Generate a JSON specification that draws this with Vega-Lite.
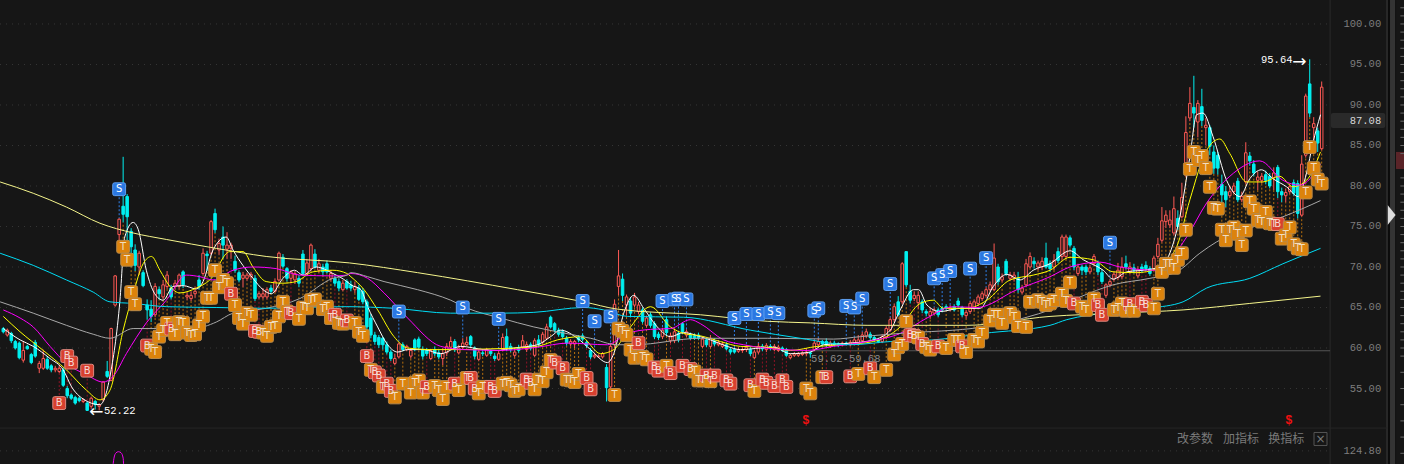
{"$schema":"https://vega.github.io/schema/vega-lite/v6.json","width":1404,"height":464,"padding":0,"autosize":{"type":"none"},"background":"#161616","config":{"view":{"stroke":null},"scale":{"continuousPadding":0}},
"data":{"values":[{"panel":"frame"}]},
"resolve":{"scale":{"stroke":"independent","fill":"independent","color":"independent"}},
"datasets":{
"levels":[{"v":100},{"v":95},{"v":90},{"v":85},{"v":80},{"v":75},{"v":70},{"v":65},{"v":60},{"v":55},{"v":47.3}],
"tickLabels":[{"v":100,"label":"100.00"},{"v":95,"label":"95.00"},{"v":90,"label":"90.00"},{"v":85,"label":"85.00"},{"v":80,"label":"80.00"},{"v":75,"label":"75.00"},{"v":70,"label":"70.00"},{"v":65,"label":"65.00"},{"v":60,"label":"60.00"},{"v":55,"label":"55.00"},{"v":47.28,"label":"124.80"}],
"ruler":[{"v":102},{"v":101},{"v":100},{"v":99},{"v":98},{"v":97},{"v":96},{"v":95},{"v":94},{"v":93},{"v":92},{"v":91},{"v":90},{"v":89},{"v":88},{"v":87},{"v":86},{"v":85},{"v":84},{"v":81},{"v":80},{"v":79},{"v":78},{"v":77},{"v":76},{"v":75},{"v":74},{"v":73},{"v":72},{"v":71},{"v":70},{"v":69},{"v":68},{"v":67},{"v":66},{"v":65},{"v":64},{"v":63},{"v":62},{"v":61},{"v":60},{"v":59},{"v":57},{"v":55},{"v":53},{"v":51},{"v":49},{"v":47}],
"candles":[
{"d":0,"o":62.4,"h":62.6,"l":61.8,"c":62},{"d":1,"o":61.6,"h":62.4,"l":61.4,"c":62.2},{"d":2,"o":61.8,"h":62,"l":60.6,"c":60.9},{"d":3,"o":60.8,"h":61,"l":59.8,"c":60},{"d":4,"o":60.6,"h":60.8,"l":58.6,"c":58.8},{"d":5,"o":58.5,"h":60.8,"l":58.2,"c":59.7},{"d":6,"o":60.2,"h":60.4,"l":59.8,"c":59.9},{"d":7,"o":59.2,"h":59.4,"l":58,"c":58.2},{"d":8,"o":60.7,"h":61,"l":58.8,"c":59},{"d":9,"o":57.5,"h":58.4,"l":56.9,"c":58.1},
{"d":10,"o":57.5,"h":59.8,"l":57.3,"c":58.7},{"d":11,"o":58.6,"h":59,"l":57.3,"c":57.5},{"d":12,"o":57.8,"h":58,"l":57,"c":57.3},{"d":13,"o":57.3,"h":57.8,"l":57,"c":57.5},{"d":14,"o":57.1,"h":57.9,"l":56.9,"c":57.5},{"d":15,"o":57.3,"h":57.6,"l":55.2,"c":55.4},{"d":16,"o":55,"h":55.3,"l":53.8,"c":54.1},{"d":17,"o":54.2,"h":54.4,"l":53.6,"c":53.8},{"d":18,"o":53.9,"h":54.1,"l":53,"c":53.2},{"d":19,"o":53.8,"h":54,"l":53.3,"c":53.5},
{"d":20,"o":53.4,"h":53.8,"l":53.2,"c":53.6},{"d":21,"o":53.2,"h":53.4,"l":52.22,"c":52.3},{"d":22,"o":52.8,"h":54,"l":52.5,"c":53.8},{"d":23,"o":53.4,"h":53.6,"l":52.4,"c":53},{"d":24,"o":52.8,"h":53.2,"l":52.3,"c":53},{"d":25,"o":53.6,"h":55.9,"l":53.4,"c":55.8},{"d":26,"o":57.1,"h":58.4,"l":56.3,"c":56.5},{"d":27,"o":56,"h":62.5,"l":55.9,"c":62.4},{"d":28,"o":65.3,"h":69,"l":65.1,"c":68.9},{"d":29,"o":74,"h":76,"l":72,"c":75.9},
{"d":30,"o":77.5,"h":83.6,"l":75.5,"c":76.5},{"d":31,"o":78.7,"h":79,"l":72.5,"c":76.2},{"d":32,"o":74.4,"h":74.8,"l":70,"c":72.5},{"d":33,"o":72.1,"h":72.8,"l":69.5,"c":70.2},{"d":34,"o":70,"h":72,"l":69,"c":71.7},{"d":35,"o":69.3,"h":69.6,"l":67.5,"c":67.7},{"d":36,"o":65.3,"h":66,"l":63.5,"c":64.7},{"d":37,"o":64.8,"h":65.9,"l":63.2,"c":63.9},{"d":38,"o":64.1,"h":68,"l":63.8,"c":67.6},{"d":39,"o":67.2,"h":67.6,"l":66,"c":66.7},
{"d":40,"o":66.3,"h":68.4,"l":66,"c":67.8},{"d":41,"o":67.6,"h":69.5,"l":67.3,"c":69},{"d":42,"o":67.4,"h":67.8,"l":66,"c":66.3},{"d":43,"o":67.6,"h":68.4,"l":67.2,"c":68},{"d":44,"o":67.6,"h":69.2,"l":67.3,"c":69},{"d":45,"o":69.4,"h":69.6,"l":67.4,"c":67.8},{"d":46,"o":66.3,"h":66.9,"l":65.9,"c":66.5},{"d":47,"o":66.1,"h":67,"l":65.8,"c":66.5},{"d":48,"o":66.7,"h":67.6,"l":66.2,"c":67},{"d":49,"o":68.4,"h":69,"l":67.2,"c":67.6},
{"d":50,"o":69.2,"h":72.3,"l":69,"c":71.7},{"d":51,"o":71.6,"h":72,"l":69.5,"c":71.4},{"d":52,"o":71.7,"h":75.8,"l":71.5,"c":75.6},{"d":53,"o":76.6,"h":77.2,"l":74.2,"c":74.6},{"d":54,"o":72.1,"h":73.5,"l":71.5,"c":72.9},{"d":55,"o":73.7,"h":75,"l":71,"c":72.7},{"d":56,"o":72.2,"h":74.3,"l":71,"c":72.7},{"d":57,"o":72.3,"h":73,"l":71,"c":72.7},{"d":58,"o":70.7,"h":71.4,"l":69.3,"c":69.6},{"d":59,"o":69.3,"h":69.6,"l":68.1,"c":68.4},
{"d":60,"o":68.6,"h":69.4,"l":67.5,"c":69},{"d":61,"o":68.6,"h":69.3,"l":68.3,"c":69},{"d":62,"o":68.8,"h":69.4,"l":68.4,"c":69.1},{"d":63,"o":68.6,"h":69,"l":65.8,"c":66.1},{"d":64,"o":66.3,"h":67,"l":66,"c":66.7},{"d":65,"o":66.3,"h":67.4,"l":66,"c":66.7},{"d":66,"o":66.3,"h":67.5,"l":66,"c":67.2},{"d":67,"o":67.4,"h":67.8,"l":66.7,"c":67},{"d":68,"o":67,"h":68.6,"l":66.8,"c":68.2},{"d":69,"o":68.4,"h":71.9,"l":68.2,"c":71.7},
{"d":70,"o":71.2,"h":71.6,"l":69.9,"c":70.1},{"d":71,"o":69.8,"h":70,"l":68.2,"c":68.6},{"d":72,"o":68.6,"h":69.6,"l":68,"c":69.4},{"d":73,"o":68.4,"h":69.5,"l":67.9,"c":69.2},{"d":74,"o":68.6,"h":69,"l":67.5,"c":68},{"d":75,"o":71.6,"h":72.1,"l":69,"c":69.2},{"d":76,"o":69.2,"h":71,"l":69,"c":70.5},{"d":77,"o":69.8,"h":72.9,"l":69.5,"c":72.7},{"d":78,"o":71.6,"h":72.2,"l":69.8,"c":70},{"d":79,"o":69.6,"h":71,"l":69.2,"c":70.4},
{"d":80,"o":70,"h":70.4,"l":69,"c":69.4},{"d":81,"o":70.4,"h":70.8,"l":69.2,"c":69.4},{"d":82,"o":68.6,"h":69.6,"l":68.2,"c":69.2},{"d":83,"o":68.6,"h":68.9,"l":67.6,"c":68},{"d":84,"o":68.2,"h":68.6,"l":67,"c":67.4},{"d":85,"o":67.2,"h":68.4,"l":67,"c":68},{"d":86,"o":68.2,"h":68.5,"l":67.2,"c":67.4},
{"d":87,"o":67.8,"h":68.3,"l":67,"c":67.4},{"d":88,"o":67.2,"h":68.2,"l":66.8,"c":67.6},{"d":89,"o":67.4,"h":67.8,"l":65.8,"c":66},{"d":90,"o":67,"h":67.4,"l":65.4,"c":65.7},{"d":91,"o":65.7,"h":66,"l":62.2,"c":62.6},{"d":92,"o":63.7,"h":64.2,"l":61.2,"c":61.6},{"d":93,"o":61.6,"h":62,"l":60.4,"c":60.8},{"d":94,"o":61.3,"h":61.6,"l":60,"c":60.4},{"d":95,"o":61.2,"h":61.4,"l":59.8,"c":60.4},{"d":96,"o":60.4,"h":60.8,"l":59.2,"c":59.5},
{"d":97,"o":59.5,"h":59.8,"l":58.4,"c":58.7},{"d":98,"o":58.1,"h":59.3,"l":57.9,"c":58.7},{"d":99,"o":58.9,"h":60.7,"l":58.7,"c":60.5},{"d":100,"o":60.4,"h":60.7,"l":59.6,"c":59.8},{"d":101,"o":59.8,"h":60.4,"l":59.6,"c":60.2},{"d":102,"o":59,"h":60,"l":58.7,"c":59.7},{"d":103,"o":61,"h":61.2,"l":59.6,"c":60},{"d":104,"o":61.1,"h":61.4,"l":59.8,"c":60.1},{"d":105,"o":59.8,"h":60.2,"l":58.6,"c":59},{"d":106,"o":59.7,"h":60,"l":59,"c":59.3},
{"d":107,"o":58.7,"h":59.9,"l":58.5,"c":59.7},{"d":108,"o":59.8,"h":60.2,"l":59,"c":59.3},{"d":109,"o":59.4,"h":59.8,"l":58.6,"c":58.9},{"d":110,"o":58.7,"h":60,"l":57.9,"c":59.3},{"d":111,"o":59.4,"h":60.6,"l":59,"c":60.2},{"d":112,"o":60.1,"h":61.4,"l":59.9,"c":60.8},{"d":113,"o":60.8,"h":61.1,"l":59.5,"c":59.8},{"d":114,"o":59.4,"h":60.4,"l":59.2,"c":60},{"d":115,"o":60.1,"h":61.2,"l":59.8,"c":60.6},{"d":116,"o":60.4,"h":61.4,"l":60.2,"c":60.7},
{"d":117,"o":61.4,"h":61.6,"l":60.1,"c":60.4},{"d":118,"o":60,"h":60.2,"l":58.6,"c":59},{"d":119,"o":58.6,"h":59.8,"l":58.4,"c":59.5},{"d":120,"o":59.4,"h":59.8,"l":59,"c":59.3},{"d":121,"o":59.1,"h":60,"l":58.9,"c":59.8},{"d":122,"o":59.6,"h":59.8,"l":59,"c":59.3},{"d":123,"o":59,"h":59.4,"l":58.4,"c":58.7},{"d":124,"o":58.6,"h":59.7,"l":58.4,"c":59.3},{"d":125,"o":59.8,"h":61.8,"l":59.6,"c":61.3},{"d":126,"o":61.4,"h":62.4,"l":59.6,"c":60},
{"d":127,"o":60.2,"h":60.6,"l":59.5,"c":59.8},{"d":128,"o":59.1,"h":60,"l":58.8,"c":59.5},{"d":129,"o":60,"h":60.4,"l":59.4,"c":59.7},{"d":130,"o":60.1,"h":61.6,"l":59.9,"c":60.9},{"d":131,"o":59.8,"h":60.8,"l":59.5,"c":60.4},{"d":132,"o":60.4,"h":60.7,"l":59.7,"c":60},{"d":133,"o":59.1,"h":61.2,"l":58.9,"c":60.9},{"d":134,"o":61,"h":61.6,"l":60.1,"c":60.4},{"d":135,"o":60.7,"h":62,"l":60.4,"c":61.7},{"d":136,"o":61.2,"h":63,"l":61,"c":62.6},
{"d":137,"o":63.8,"h":64,"l":62.4,"c":62.6},{"d":138,"o":63,"h":63.2,"l":61.9,"c":62.2},{"d":139,"o":62.2,"h":62.5,"l":61.4,"c":61.7},{"d":140,"o":62,"h":62.3,"l":61.2,"c":61.4},{"d":141,"o":61.2,"h":61.5,"l":60.3,"c":60.6},{"d":142,"o":60.5,"h":61.1,"l":60.2,"c":60.8},{"d":143,"o":60.5,"h":61,"l":60,"c":60.8},{"d":144,"o":61.3,"h":61.6,"l":60.7,"c":61},{"d":145,"o":61.5,"h":61.8,"l":60.8,"c":61.1},{"d":146,"o":60.7,"h":61,"l":60,"c":60.3},
{"d":147,"o":59.7,"h":60,"l":58.6,"c":58.9},{"d":148,"o":58.9,"h":59.4,"l":58.7,"c":59.1},{"d":149,"o":58.9,"h":59.2,"l":58.8,"c":59},{"d":150,"o":58.9,"h":59.5,"l":58.7,"c":59.3},{"d":151,"o":57.6,"h":58,"l":53.4,"c":55.1},{"d":152,"o":55.2,"h":60.6,"l":53.9,"c":60.2},{"d":153,"o":60.4,"h":66,"l":60,"c":65.4},{"d":154,"o":67.6,"h":72.1,"l":66.5,"c":68.9},{"d":155,"o":68.5,"h":69.2,"l":65.8,"c":66.5},{"d":156,"o":65.3,"h":66.6,"l":64,"c":66.3},
{"d":157,"o":65.8,"h":66.3,"l":63.8,"c":64.3},{"d":158,"o":65.3,"h":66.8,"l":65,"c":66.3},{"d":159,"o":64.5,"h":65.7,"l":64.2,"c":65.3},{"d":160,"o":64.7,"h":65,"l":63,"c":63.3},{"d":161,"o":62.8,"h":64,"l":62.5,"c":63.7},{"d":162,"o":64.1,"h":64.4,"l":62.5,"c":62.8},{"d":163,"o":63,"h":63.3,"l":61.1,"c":61.4},{"d":164,"o":61.7,"h":62,"l":61,"c":61.3},{"d":165,"o":61.4,"h":62.5,"l":61.1,"c":62.2},{"d":166,"o":63.5,"h":63.9,"l":61.6,"c":61.9},
{"d":167,"o":60.9,"h":61.9,"l":60.6,"c":61.5},{"d":168,"o":60.9,"h":62.4,"l":60.6,"c":62},{"d":169,"o":61.8,"h":62.1,"l":60.7,"c":61},{"d":170,"o":63,"h":63.2,"l":61.7,"c":62},{"d":171,"o":61.6,"h":62.3,"l":61.3,"c":62},{"d":172,"o":61.6,"h":61.9,"l":61,"c":61.2},{"d":173,"o":61.5,"h":61.8,"l":61,"c":61.2},{"d":174,"o":61.6,"h":61.9,"l":61,"c":61.2},
{"d":175,"o":60.2,"h":61.4,"l":60,"c":61.1},{"d":176,"o":61,"h":61.3,"l":60.1,"c":60.4},{"d":177,"o":60.2,"h":61.6,"l":60,"c":61.2},{"d":178,"o":60.9,"h":61.2,"l":60.2,"c":60.5},{"d":179,"o":60.4,"h":61,"l":60.2,"c":60.7},{"d":180,"o":60.2,"h":60.8,"l":60,"c":60.5},{"d":181,"o":60.4,"h":60.7,"l":59.7,"c":59.9},{"d":182,"o":59.8,"h":60.1,"l":59.2,"c":59.5},{"d":183,"o":59.8,"h":60,"l":59.3,"c":59.5},{"d":184,"o":59.6,"h":60.1,"l":59.4,"c":59.8},
{"d":185,"o":59.7,"h":60.1,"l":59.4,"c":59.8},{"d":186,"o":59.8,"h":60.4,"l":59.5,"c":60.1},{"d":187,"o":59.8,"h":60.1,"l":59,"c":59.3},{"d":188,"o":58.8,"h":59.8,"l":58.6,"c":59.5},{"d":189,"o":59.5,"h":60.6,"l":59.2,"c":60.2},{"d":190,"o":60.2,"h":60.5,"l":59.6,"c":59.9},{"d":191,"o":59.8,"h":60.6,"l":59.5,"c":60.3},{"d":192,"o":60.2,"h":60.5,"l":59.7,"c":60},{"d":193,"o":59.8,"h":60.5,"l":59.6,"c":60.2},{"d":194,"o":59.7,"h":60.4,"l":59.5,"c":60.1},
{"d":195,"o":60,"h":60.2,"l":59.5,"c":59.7},{"d":196,"o":59.8,"h":60,"l":58.9,"c":59.1},{"d":197,"o":58.8,"h":59.3,"l":58.6,"c":59.1},{"d":198,"o":59.1,"h":59.5,"l":58.9,"c":59.3},{"d":199,"o":59.1,"h":59.5,"l":58.9,"c":59.3},{"d":200,"o":59.2,"h":59.6,"l":59,"c":59.4},{"d":201,"o":59.3,"h":60,"l":59,"c":59.5},{"d":202,"o":59.4,"h":59.6,"l":58.8,"c":59.3},{"d":203,"o":59.8,"h":61,"l":59.6,"c":60.6},{"d":204,"o":60.4,"h":61.2,"l":60.1,"c":60.8},
{"d":205,"o":60.8,"h":61,"l":60.2,"c":60.5},{"d":206,"o":60.8,"h":61.2,"l":60.1,"c":60.4},{"d":207,"o":60.2,"h":60.9,"l":60,"c":60.6},{"d":208,"o":60.6,"h":60.9,"l":60.2,"c":60.4},{"d":209,"o":60.5,"h":60.7,"l":60.1,"c":60.3},{"d":210,"o":60.4,"h":60.8,"l":60.2,"c":60.6},{"d":211,"o":60.6,"h":60.8,"l":60.3,"c":60.5},{"d":212,"o":60.4,"h":61,"l":60.2,"c":60.7},{"d":213,"o":60.6,"h":61.3,"l":60.3,"c":61},{"d":214,"o":60.6,"h":61.6,"l":60.4,"c":61},
{"d":215,"o":60.9,"h":62,"l":60.7,"c":61.6},{"d":216,"o":61.5,"h":62.4,"l":61.2,"c":62},{"d":217,"o":61.7,"h":62,"l":61,"c":61.3},{"d":218,"o":61.3,"h":61.6,"l":60.8,"c":61},{"d":219,"o":61,"h":61.2,"l":60.6,"c":60.8},{"d":220,"o":60.8,"h":61.7,"l":60.6,"c":61.4},{"d":221,"o":61.3,"h":62.7,"l":61.1,"c":62.4},{"d":222,"o":62.2,"h":63.8,"l":62,"c":63.5},{"d":223,"o":63.5,"h":65.5,"l":63.2,"c":65.1},{"d":224,"o":65.7,"h":66.4,"l":63.9,"c":64.1},
{"d":225,"o":65.7,"h":70.6,"l":65.4,"c":70.4},{"d":226,"o":71.9,"h":71.9,"l":67.5,"c":67.8},{"d":227,"o":67,"h":67.8,"l":65.5,"c":65.9},{"d":228,"o":66.1,"h":67,"l":65.8,"c":66.5},{"d":229,"o":65.6,"h":67,"l":64.8,"c":66.5},{"d":230,"o":65.7,"h":66,"l":64.3,"c":64.7},{"d":231,"o":64.5,"h":64.8,"l":63.9,"c":64.3},{"d":232,"o":64,"h":65,"l":63.6,"c":64.5},{"d":233,"o":64.3,"h":65,"l":64,"c":64.7},{"d":234,"o":64.7,"h":65,"l":63.8,"c":64.1},
{"d":235,"o":64.9,"h":65.2,"l":64.4,"c":64.7},{"d":236,"o":65.1,"h":65.4,"l":64.6,"c":64.9},{"d":237,"o":64.8,"h":65.3,"l":64.5,"c":65},{"d":238,"o":65.1,"h":65.4,"l":64.5,"c":64.7},{"d":239,"o":65.8,"h":66.2,"l":65,"c":65.3},{"d":240,"o":65,"h":65.2,"l":63.8,"c":64.1},{"d":241,"o":64,"h":64.7,"l":63.6,"c":64.4},{"d":242,"o":64.5,"h":65.8,"l":64.2,"c":65.5},{"d":243,"o":64.9,"h":66,"l":64.6,"c":65.7},{"d":244,"o":65.5,"h":66.6,"l":65.2,"c":66.3},
{"d":245,"o":66.1,"h":67,"l":65.8,"c":66.7},{"d":246,"o":66.5,"h":67.5,"l":66.2,"c":67.2},{"d":247,"o":67.2,"h":68.2,"l":67,"c":67.8},{"d":248,"o":67.2,"h":72.9,"l":67,"c":71.1},{"d":249,"o":70,"h":70.4,"l":67.8,"c":68.2},{"d":250,"o":68.4,"h":69.2,"l":68.1,"c":68.8},{"d":251,"o":70.7,"h":71,"l":68.9,"c":69.2},{"d":252,"o":68.6,"h":69.4,"l":68.3,"c":69},{"d":253,"o":68.6,"h":69.4,"l":68.2,"c":69},{"d":254,"o":68.6,"h":69.4,"l":66.8,"c":67.2},
{"d":255,"o":66.9,"h":67.8,"l":66.6,"c":67.4},{"d":256,"o":67.8,"h":71,"l":67.5,"c":70.4},{"d":257,"o":70,"h":71.8,"l":69.8,"c":71.3},{"d":258,"o":70.7,"h":71.2,"l":69.8,"c":70.4},{"d":259,"o":70,"h":70.8,"l":69.6,"c":70.5},{"d":260,"o":70,"h":71.2,"l":69.6,"c":70.7},{"d":261,"o":71.1,"h":73,"l":69.8,"c":70},{"d":262,"o":70.4,"h":70.8,"l":69.4,"c":69.8},
{"d":263,"o":70,"h":71.6,"l":69.6,"c":70.8},{"d":264,"o":71.9,"h":72.4,"l":70.5,"c":70.8},{"d":265,"o":71.3,"h":74,"l":70.8,"c":73.7},{"d":266,"o":71.3,"h":74,"l":71,"c":73.7},{"d":267,"o":73.6,"h":73.9,"l":72.4,"c":72.7},{"d":268,"o":72.3,"h":72.6,"l":69.6,"c":70},{"d":269,"o":69.2,"h":70.4,"l":68.9,"c":70},{"d":270,"o":70,"h":70.3,"l":69,"c":69.6},{"d":271,"o":70,"h":70.3,"l":69,"c":69.4},{"d":272,"o":69.4,"h":70.3,"l":69.1,"c":69.9},
{"d":273,"o":70.4,"h":71.6,"l":70.1,"c":71.3},{"d":274,"o":70.4,"h":70.8,"l":69,"c":69.4},{"d":275,"o":69.3,"h":69.7,"l":67.9,"c":68.2},{"d":276,"o":66.5,"h":68,"l":66.2,"c":67.8},{"d":277,"o":67.8,"h":68.5,"l":67.5,"c":68.2},{"d":278,"o":68.5,"h":69.5,"l":68.2,"c":69.1},{"d":279,"o":68.7,"h":70.5,"l":68.4,"c":69.6},{"d":280,"o":68.8,"h":71.2,"l":68.5,"c":70},{"d":281,"o":70.4,"h":71.4,"l":69.7,"c":70},{"d":282,"o":69.4,"h":70.6,"l":69.1,"c":70},
{"d":283,"o":69.9,"h":70.4,"l":69.2,"c":69.6},{"d":284,"o":68.9,"h":70.1,"l":68.6,"c":69.7},{"d":285,"o":70,"h":70.4,"l":69.3,"c":69.6},{"d":286,"o":70.2,"h":70.7,"l":69.5,"c":69.8},{"d":287,"o":69.8,"h":70.1,"l":68.9,"c":69.2},{"d":288,"o":69.8,"h":71.4,"l":69.5,"c":71.1},{"d":289,"o":71.3,"h":73.6,"l":71,"c":72.8},{"d":290,"o":73.3,"h":77.4,"l":73,"c":75.7},{"d":291,"o":75.6,"h":77,"l":74.8,"c":76.4},{"d":292,"o":75.2,"h":77,"l":74.8,"c":75.8},
{"d":293,"o":74.2,"h":78.7,"l":73.9,"c":77.2},{"d":294,"o":76,"h":77,"l":74.6,"c":75},{"d":295,"o":76.2,"h":80.4,"l":76,"c":78.6},{"d":296,"o":81.4,"h":88.6,"l":81.1,"c":86.6},{"d":297,"o":88.4,"h":92.2,"l":88,"c":90.2},{"d":298,"o":89.7,"h":93.6,"l":87.2,"c":89},{"d":299,"o":87.9,"h":90.6,"l":86,"c":90.2},{"d":300,"o":89.8,"h":92,"l":87.4,"c":88.1},{"d":301,"o":87.2,"h":88.4,"l":85,"c":87.5},{"d":302,"o":87.2,"h":87.5,"l":83.8,"c":84.9},
{"d":303,"o":84.2,"h":85,"l":81.5,"c":82.2},{"d":304,"o":83.8,"h":84.2,"l":81.4,"c":82.2},{"d":305,"o":80.2,"h":81.4,"l":77,"c":78.9},{"d":306,"o":79.3,"h":80,"l":77.4,"c":78.3},{"d":307,"o":78.8,"h":80,"l":78.5,"c":79.3},{"d":308,"o":79.3,"h":80.4,"l":79,"c":80},{"d":309,"o":80.6,"h":81,"l":78,"c":78.3},{"d":310,"o":78.3,"h":79.3,"l":78,"c":78.7},{"d":311,"o":80.5,"h":85.4,"l":80.2,"c":84.1},{"d":312,"o":83.7,"h":84.2,"l":82.5,"c":83.1},
{"d":313,"o":82.7,"h":83.2,"l":81.2,"c":81.6},{"d":314,"o":80.7,"h":81.8,"l":79.5,"c":81.1},{"d":315,"o":80.7,"h":81.6,"l":80.3,"c":81.2},{"d":316,"o":81.4,"h":81.9,"l":80.2,"c":80.7},{"d":317,"o":81.2,"h":81.6,"l":79.7,"c":80},{"d":318,"o":81,"h":82.3,"l":79.5,"c":81.6},{"d":319,"o":82.3,"h":82.6,"l":78.5,"c":79.3},{"d":320,"o":79.3,"h":79.8,"l":78,"c":78.9},{"d":321,"o":78.8,"h":79.7,"l":78,"c":79.2},{"d":322,"o":79.3,"h":80.3,"l":79,"c":79.9},
{"d":323,"o":80.4,"h":80.8,"l":78.8,"c":79.1},{"d":324,"o":80.3,"h":80.7,"l":76,"c":76.6},{"d":325,"o":76.4,"h":83.8,"l":76.2,"c":82.7},{"d":326,"o":83.8,"h":91.4,"l":83.5,"c":91.1},{"d":327,"o":92.6,"h":95.64,"l":88.5,"c":89},{"d":328,"o":87.2,"h":88.5,"l":85,"c":87.7},{"d":329,"o":86.8,"h":87.2,"l":84.2,"c":85.3},{"d":330,"o":84.6,"h":92.9,"l":84.4,"c":92.2}],
"lines":[
{"s":"MA5","d":0,"v":62.4},{"s":"MA5","d":4.2,"v":61},{"s":"MA5","d":7.5,"v":60.2},{"s":"MA5","d":11.7,"v":58.7},{"s":"MA5","d":15,"v":57.3},{"s":"MA5","d":17.1,"v":55.2},{"s":"MA5","d":20,"v":53.7},{"s":"MA5","d":24.2,"v":53},{"s":"MA5","d":26.7,"v":56.5},{"s":"MA5","d":29.2,"v":65.9},{"s":"MA5","d":30.4,"v":73.7},{"s":"MA5","d":32.5,"v":75.5},{"s":"MA5","d":33.8,"v":74.6},{"s":"MA5","d":35.8,"v":69.6},{"s":"MA5","d":37.9,"v":66.7},{"s":"MA5","d":40,"v":65.9},{"s":"MA5","d":42.5,"v":67.6},{"s":"MA5","d":45,"v":67.7},{"s":"MA5","d":48.3,"v":67.3},{"s":"MA5","d":50,"v":68.2},{"s":"MA5","d":52.5,"v":72.1},{"s":"MA5","d":55.8,"v":73.7},{"s":"MA5","d":57.5,"v":72.1},{"s":"MA5","d":62.5,"v":68.6},{"s":"MA5","d":65,"v":67.2},{"s":"MA5","d":67.1,"v":66.7},{"s":"MA5","d":70,"v":68.6},{"s":"MA5","d":72.9,"v":69.6},{"s":"MA5","d":75,"v":69},{"s":"MA5","d":78.3,"v":70},{"s":"MA5","d":82.5,"v":69.2},{"s":"MA5","d":86,"v":68.2},{"s":"MA5","d":87,"v":67.8},{"s":"MA5","d":89.5,"v":67.2},{"s":"MA5","d":91.2,"v":65.1},{"s":"MA5","d":93.7,"v":62.6},{"s":"MA5","d":96.2,"v":60.4},{"s":"MA5","d":98.7,"v":59.5},{"s":"MA5","d":101.2,"v":59.8},{"s":"MA5","d":105.3,"v":59.8},{"s":"MA5","d":109.5,"v":59.3},{"s":"MA5","d":114.5,"v":60.2},{"s":"MA5","d":120.3,"v":59.8},{"s":"MA5","d":123.7,"v":59.7},{"s":"MA5","d":127.8,"v":60},{"s":"MA5","d":133.7,"v":60.4},{"s":"MA5","d":137,"v":61.4},{"s":"MA5","d":139.5,"v":62.2},{"s":"MA5","d":143.7,"v":61.2},{"s":"MA5","d":147,"v":59.8},{"s":"MA5","d":151.2,"v":58.2},{"s":"MA5","d":152.8,"v":59.3},{"s":"MA5","d":155.3,"v":64.3},{"s":"MA5","d":157.8,"v":66.5},{"s":"MA5","d":160.3,"v":64.9},{"s":"MA5","d":163.7,"v":62.6},{"s":"MA5","d":167,"v":61.4},{"s":"MA5","d":170.3,"v":61.9},{"s":"MA5","d":174.5,"v":61.4},{"s":"MA5","d":177,"v":61},{"s":"MA5","d":181.2,"v":60.2},{"s":"MA5","d":184.5,"v":59.8},{"s":"MA5","d":189.5,"v":60},{"s":"MA5","d":192.8,"v":60.1},{"s":"MA5","d":197,"v":59.3},{"s":"MA5","d":202,"v":59.5},{"s":"MA5","d":205.3,"v":60.4},{"s":"MA5","d":212,"v":60.6},{"s":"MA5","d":217.8,"v":61},{"s":"MA5","d":222,"v":62.2},{"s":"MA5","d":224.5,"v":64.7},{"s":"MA5","d":227.8,"v":67.2},{"s":"MA5","d":229.1,"v":67.2},{"s":"MA5","d":231.2,"v":65.3},{"s":"MA5","d":234.5,"v":64.5},{"s":"MA5","d":239.5,"v":64.9},{"s":"MA5","d":244.5,"v":64.9},{"s":"MA5","d":247.8,"v":67.6},{"s":"MA5","d":251.2,"v":69.1},{"s":"MA5","d":254.5,"v":68.4},{"s":"MA5","d":257.8,"v":69.6},{"s":"MA5","d":262,"v":70.4},{"s":"MA5","d":267,"v":72},{"s":"MA5","d":270.3,"v":70.9},{"s":"MA5","d":275.3,"v":69.6},{"s":"MA5","d":277.8,"v":68.5},{"s":"MA5","d":281.2,"v":69.4},{"s":"MA5","d":285.3,"v":69.6},{"s":"MA5","d":289.5,"v":70},{"s":"MA5","d":294.5,"v":76.2},{"s":"MA5","d":297,"v":83.6},{"s":"MA5","d":298.7,"v":88.8},{"s":"MA5","d":300.3,"v":89},{"s":"MA5","d":302.8,"v":86.1},{"s":"MA5","d":306.2,"v":80.7},{"s":"MA5","d":309.5,"v":78.7},{"s":"MA5","d":312,"v":80.9},{"s":"MA5","d":314.9,"v":82},{"s":"MA5","d":317.8,"v":80.9},{"s":"MA5","d":321.2,"v":79.9},{"s":"MA5","d":324.1,"v":78.7},{"s":"MA5","d":326.2,"v":81.6},{"s":"MA5","d":327.8,"v":85.3},{"s":"MA5","d":329.7,"v":88.8},
{"s":"MA10","d":0,"v":63.9},{"s":"MA10","d":4.2,"v":62},{"s":"MA10","d":10,"v":59.7},{"s":"MA10","d":15.8,"v":57.3},{"s":"MA10","d":20.8,"v":54.8},{"s":"MA10","d":24.2,"v":53.6},{"s":"MA10","d":26.7,"v":54.8},{"s":"MA10","d":30,"v":62.2},{"s":"MA10","d":32.5,"v":66.7},{"s":"MA10","d":35,"v":70.4},{"s":"MA10","d":37.1,"v":71.3},{"s":"MA10","d":39.2,"v":69.6},{"s":"MA10","d":41.7,"v":67.6},{"s":"MA10","d":44.2,"v":66.8},{"s":"MA10","d":48.3,"v":67.4},{"s":"MA10","d":51.7,"v":68.4},{"s":"MA10","d":56.7,"v":71.9},{"s":"MA10","d":60,"v":71.9},{"s":"MA10","d":62.5,"v":70},{"s":"MA10","d":65.8,"v":68.2},{"s":"MA10","d":70,"v":68},{"s":"MA10","d":73.3,"v":68.2},{"s":"MA10","d":77.5,"v":69.4},{"s":"MA10","d":82.5,"v":69.6},{"s":"MA10","d":86,"v":69.2},{"s":"MA10","d":87,"v":68.8},{"s":"MA10","d":90.3,"v":67.2},{"s":"MA10","d":93.7,"v":64.7},{"s":"MA10","d":97.8,"v":61.4},{"s":"MA10","d":101.2,"v":60},{"s":"MA10","d":107.8,"v":59.8},{"s":"MA10","d":114.5,"v":59.8},{"s":"MA10","d":122,"v":59.9},{"s":"MA10","d":128.7,"v":60},{"s":"MA10","d":133.7,"v":60.2},{"s":"MA10","d":138.7,"v":61},{"s":"MA10","d":144.5,"v":61.4},{"s":"MA10","d":149.5,"v":59.3},{"s":"MA10","d":152.8,"v":59.8},{"s":"MA10","d":157,"v":62.6},{"s":"MA10","d":162,"v":65.1},{"s":"MA10","d":167,"v":62.6},{"s":"MA10","d":170.3,"v":61.8},{"s":"MA10","d":174.5,"v":61.5},{"s":"MA10","d":179.5,"v":60.8},{"s":"MA10","d":184.5,"v":60.2},{"s":"MA10","d":191.2,"v":60.1},{"s":"MA10","d":197,"v":59.7},{"s":"MA10","d":203.7,"v":60.2},{"s":"MA10","d":210.3,"v":60.4},{"s":"MA10","d":217.8,"v":60.8},{"s":"MA10","d":224.5,"v":62.6},{"s":"MA10","d":229.5,"v":65.5},{"s":"MA10","d":232.8,"v":65.9},{"s":"MA10","d":235.3,"v":64.9},{"s":"MA10","d":241.2,"v":64.9},{"s":"MA10","d":246.2,"v":65.9},{"s":"MA10","d":252,"v":68.4},{"s":"MA10","d":257.8,"v":69},{"s":"MA10","d":262,"v":69.6},{"s":"MA10","d":267,"v":71.2},{"s":"MA10","d":272.8,"v":70.9},{"s":"MA10","d":277.8,"v":69.4},{"s":"MA10","d":283.7,"v":69.3},{"s":"MA10","d":288.7,"v":69.8},{"s":"MA10","d":293.7,"v":72.5},{"s":"MA10","d":297,"v":78.3},{"s":"MA10","d":301.2,"v":84.4},{"s":"MA10","d":304.5,"v":85.8},{"s":"MA10","d":307,"v":84},{"s":"MA10","d":311.2,"v":80.5},{"s":"MA10","d":315.3,"v":80.5},{"s":"MA10","d":319.5,"v":81.2},{"s":"MA10","d":322.8,"v":79.9},{"s":"MA10","d":326.2,"v":80.7},{"s":"MA10","d":329.7,"v":84.2},
{"s":"MA20","d":0,"v":64.7},{"s":"MA20","d":4.2,"v":63.7},{"s":"MA20","d":7.5,"v":62.6},{"s":"MA20","d":11.7,"v":60.2},{"s":"MA20","d":15.8,"v":58.1},{"s":"MA20","d":20.8,"v":56.7},{"s":"MA20","d":25,"v":55.8},{"s":"MA20","d":27.5,"v":56.5},{"s":"MA20","d":30.8,"v":59.3},{"s":"MA20","d":35.8,"v":63.1},{"s":"MA20","d":40.8,"v":65.9},{"s":"MA20","d":45.8,"v":69},{"s":"MA20","d":49.2,"v":68.8},{"s":"MA20","d":52.5,"v":68.4},{"s":"MA20","d":57.5,"v":69.6},{"s":"MA20","d":62.5,"v":70},{"s":"MA20","d":68.3,"v":69.8},{"s":"MA20","d":74.2,"v":69},{"s":"MA20","d":82.5,"v":68.9},{"s":"MA20","d":86,"v":69},{"s":"MA20","d":87,"v":69.2},{"s":"MA20","d":91.2,"v":68.6},{"s":"MA20","d":95.3,"v":66.8},{"s":"MA20","d":101.2,"v":63.7},{"s":"MA20","d":109.5,"v":60.2},{"s":"MA20","d":115.3,"v":59.8},{"s":"MA20","d":124.5,"v":59.7},{"s":"MA20","d":133.7,"v":60.1},{"s":"MA20","d":141.2,"v":60.6},{"s":"MA20","d":151.2,"v":60.4},{"s":"MA20","d":156.2,"v":61.8},{"s":"MA20","d":162,"v":62.3},{"s":"MA20","d":167,"v":62.4},{"s":"MA20","d":172,"v":63.5},{"s":"MA20","d":174.5,"v":63},{"s":"MA20","d":180.3,"v":61},{"s":"MA20","d":185.3,"v":60.4},{"s":"MA20","d":195.3,"v":59.8},{"s":"MA20","d":201.2,"v":59.7},{"s":"MA20","d":207.8,"v":60.2},{"s":"MA20","d":216.2,"v":60.8},{"s":"MA20","d":224.5,"v":61.8},{"s":"MA20","d":231.2,"v":63.7},{"s":"MA20","d":237.8,"v":65.1},{"s":"MA20","d":243.7,"v":65},{"s":"MA20","d":253.7,"v":67.2},{"s":"MA20","d":262,"v":68.8},{"s":"MA20","d":267,"v":70},{"s":"MA20","d":274.5,"v":70.6},{"s":"MA20","d":279.5,"v":70},{"s":"MA20","d":288.7,"v":69.6},{"s":"MA20","d":296.2,"v":73.7},{"s":"MA20","d":301.2,"v":77.9},{"s":"MA20","d":307,"v":81.2},{"s":"MA20","d":314.5,"v":83.1},{"s":"MA20","d":320.3,"v":80.7},{"s":"MA20","d":324.5,"v":80.1},{"s":"MA20","d":329.7,"v":82.7},
{"s":"MA60","d":-0.8,"v":65.7},{"s":"MA60","d":7.5,"v":64.3},{"s":"MA60","d":15.8,"v":62.8},{"s":"MA60","d":22.5,"v":61.7},{"s":"MA60","d":26.7,"v":61.2},{"s":"MA60","d":32.5,"v":62.4},{"s":"MA60","d":38.3,"v":62.4},{"s":"MA60","d":47.5,"v":62.4},{"s":"MA60","d":53.3,"v":63.2},{"s":"MA60","d":57.5,"v":64.3},{"s":"MA60","d":65.8,"v":64.9},{"s":"MA60","d":74.2,"v":66.1},{"s":"MA60","d":82.5,"v":68.6},{"s":"MA60","d":86,"v":69},{"s":"MA60","d":87,"v":69.3},{"s":"MA60","d":91.2,"v":68.8},{"s":"MA60","d":95.3,"v":68.2},{"s":"MA60","d":103.7,"v":67.2},{"s":"MA60","d":112,"v":65.9},{"s":"MA60","d":116.2,"v":64.9},{"s":"MA60","d":124.5,"v":63.7},{"s":"MA60","d":132.8,"v":62.6},{"s":"MA60","d":138.7,"v":62},{"s":"MA60","d":147,"v":61.2},{"s":"MA60","d":153.7,"v":60.4},{"s":"MA60","d":157.8,"v":60.4},{"s":"MA60","d":174.5,"v":61.2},{"s":"MA60","d":191.2,"v":61.2},{"s":"MA60","d":207.8,"v":61.1},{"s":"MA60","d":214.5,"v":61.4},{"s":"MA60","d":224.5,"v":61.8},{"s":"MA60","d":245.3,"v":62.6},{"s":"MA60","d":256.2,"v":63.8},{"s":"MA60","d":262,"v":64.7},{"s":"MA60","d":269.5,"v":66.3},{"s":"MA60","d":277.8,"v":67.8},{"s":"MA60","d":287,"v":68.6},{"s":"MA60","d":293.7,"v":69.4},{"s":"MA60","d":299.5,"v":71.7},{"s":"MA60","d":303.7,"v":73.1},{"s":"MA60","d":312,"v":74.8},{"s":"MA60","d":320.3,"v":76.2},{"s":"MA60","d":329.7,"v":78.2},
{"s":"MA120","d":-0.8,"v":71.7},{"s":"MA120","d":7.5,"v":70.2},{"s":"MA120","d":15.8,"v":68.4},{"s":"MA120","d":22.5,"v":66.9},{"s":"MA120","d":26.7,"v":65.7},{"s":"MA120","d":32.5,"v":65.5},{"s":"MA120","d":40.8,"v":65.1},{"s":"MA120","d":53.3,"v":65},{"s":"MA120","d":65.8,"v":64.9},{"s":"MA120","d":74.2,"v":65},{"s":"MA120","d":86,"v":65.1},{"s":"MA120","d":97.8,"v":64.9},{"s":"MA120","d":112,"v":64.3},{"s":"MA120","d":124.5,"v":64.3},{"s":"MA120","d":132.8,"v":64.4},{"s":"MA120","d":145.3,"v":65},{"s":"MA120","d":150.3,"v":64.7},{"s":"MA120","d":156.2,"v":63.9},{"s":"MA120","d":170.3,"v":63.8},{"s":"MA120","d":187,"v":62.2},{"s":"MA120","d":199.5,"v":61.2},{"s":"MA120","d":212,"v":60.4},{"s":"MA120","d":222,"v":60.8},{"s":"MA120","d":232.8,"v":61},{"s":"MA120","d":245.3,"v":61.8},{"s":"MA120","d":262,"v":62.8},{"s":"MA120","d":266.2,"v":63.5},{"s":"MA120","d":287,"v":64.9},{"s":"MA120","d":295.3,"v":65.7},{"s":"MA120","d":301.2,"v":67.4},{"s":"MA120","d":312,"v":68.6},{"s":"MA120","d":320.3,"v":70.4},{"s":"MA120","d":329.7,"v":72.3},
{"s":"MA250","d":-0.8,"v":80.5},{"s":"MA250","d":7.5,"v":79.1},{"s":"MA250","d":15.8,"v":77.4},{"s":"MA250","d":24.2,"v":75.4},{"s":"MA250","d":32.5,"v":74.2},{"s":"MA250","d":40.8,"v":73.4},{"s":"MA250","d":53.3,"v":72.3},{"s":"MA250","d":65.8,"v":71.3},{"s":"MA250","d":86.7,"v":70.5},{"s":"MA250","d":103.7,"v":69.3},{"s":"MA250","d":128.7,"v":67.2},{"s":"MA250","d":145.3,"v":65.7},{"s":"MA250","d":153.7,"v":64.8},{"s":"MA250","d":174.5,"v":64.1},{"s":"MA250","d":191.2,"v":63.3},{"s":"MA250","d":202,"v":63.1},{"s":"MA250","d":216.2,"v":62.8},{"s":"MA250","d":241.2,"v":62.8},{"s":"MA250","d":262,"v":63.9},{"s":"MA250","d":278.7,"v":64.3},{"s":"MA250","d":295.3,"v":64.7},{"s":"MA250","d":312,"v":65.5},{"s":"MA250","d":329.7,"v":66.4},
{"s":"VOL","d":27.5,"v":45.7},{"s":"VOL","d":27.7,"v":46.4},{"s":"VOL","d":28.2,"v":47.05},{"s":"VOL","d":28.8,"v":47.2},{"s":"VOL","d":29.5,"v":47.05},{"s":"VOL","d":30,"v":46.4},{"s":"VOL","d":30.1,"v":45.7}],
"signals":[
{"t":"B","d":14,"v":53.2},{"t":"B","d":16,"v":59},{"t":"B","d":17,"v":58.2},{"t":"B","d":21,"v":57.2},{"t":"S","d":29,"v":79.6},{"t":"T","d":30,"v":72.5},{"t":"T","d":31,"v":70.9},{"t":"T","d":32,"v":66.9},{"t":"T","d":33,"v":65.4},{"t":"B","d":36,"v":60.3},{"t":"T","d":37,"v":59.9},{"t":"T","d":38,"v":59.5},{"t":"T","d":39,"v":61.4},{"t":"T","d":40,"v":62.2},{"t":"T","d":41,"v":63.1},{"t":"B","d":42,"v":62.4},{"t":"T","d":43,"v":61.7},{"t":"T","d":44,"v":63.2},{"t":"T","d":45,"v":63.1},{"t":"T","d":46,"v":61.9},{"t":"T","d":47,"v":61.6},{"t":"T","d":48,"v":61.7},{"t":"T","d":49,"v":62.8},{"t":"T","d":50,"v":63.9},{"t":"T","d":51,"v":66.2},{"t":"T","d":52,"v":66.2},{"t":"T","d":53,"v":69.6},{"t":"T","d":54,"v":67.5},{"t":"T","d":55,"v":68.4},{"t":"T","d":56,"v":68},{"t":"B","d":57,"v":66.7},{"t":"T","d":58,"v":65.3},{"t":"T","d":59,"v":63.7},{"t":"T","d":60,"v":63},{"t":"T","d":61,"v":64.3},{"t":"T","d":62,"v":64.1},{"t":"B","d":63,"v":62.1},{"t":"B","d":64,"v":62},{"t":"T","d":65,"v":61.9},{"t":"T","d":66,"v":61.5},{"t":"T","d":67,"v":62.6},{"t":"T","d":68,"v":62.7},{"t":"T","d":69,"v":63.9},{"t":"T","d":70,"v":65.7},{"t":"T","d":71,"v":64.5},{"t":"B","d":72,"v":64.3},{"t":"T","d":74,"v":63.6},{"t":"T","d":75,"v":65},{"t":"T","d":76,"v":64.9},{"t":"T","d":77,"v":65.9},{"t":"T","d":78,"v":66},{"t":"T","d":80,"v":64.8},{"t":"T","d":81,"v":65.1},{"t":"T","d":82,"v":63.7},{"t":"B","d":83,"v":64.1},{"t":"T","d":84,"v":63.1},{"t":"T","d":85,"v":63},{"t":"B","d":86,"v":63.4},
{"t":"T","d":88,"v":63.1},{"t":"T","d":89,"v":62},{"t":"T","d":90,"v":61.5},{"t":"B","d":91,"v":59},{"t":"T","d":92,"v":57.3},{"t":"B","d":93,"v":57},{"t":"B","d":94,"v":56.6},{"t":"T","d":95,"v":55.2},{"t":"B","d":96,"v":55.6},{"t":"B","d":97,"v":54.7},{"t":"T","d":98,"v":53.9},{"t":"S","d":99,"v":64.5},{"t":"T","d":100,"v":55.6},{"t":"T","d":102,"v":54.5},{"t":"T","d":103,"v":55.7},{"t":"T","d":104,"v":56},{"t":"T","d":105,"v":54.5},{"t":"B","d":106,"v":55.2},{"t":"T","d":108,"v":55.3},{"t":"T","d":109,"v":54.8},{"t":"T","d":110,"v":53.7},{"t":"T","d":111,"v":55.2},{"t":"B","d":113,"v":55.6},{"t":"T","d":114,"v":54.8},{"t":"S","d":115,"v":65},{"t":"T","d":116,"v":56.3},{"t":"B","d":117,"v":56.3},{"t":"B","d":118,"v":55},{"t":"T","d":119,"v":54.4},{"t":"T","d":120,"v":55.2},{"t":"B","d":122,"v":55.2},{"t":"B","d":123,"v":54.7},{"t":"S","d":124,"v":63.6},{"t":"T","d":125,"v":55.6},{"t":"T","d":126,"v":55.7},{"t":"T","d":127,"v":55.4},{"t":"T","d":128,"v":54.7},{"t":"T","d":129,"v":54.9},{"t":"B","d":131,"v":56.1},{"t":"B","d":132,"v":55.7},{"t":"T","d":133,"v":54.9},{"t":"T","d":134,"v":56.1},{"t":"T","d":135,"v":55.9},{"t":"T","d":136,"v":57},{"t":"T","d":137,"v":58.5},{"t":"B","d":138,"v":58.2},{"t":"B","d":140,"v":57.5},{"t":"T","d":141,"v":56.1},{"t":"T","d":142,"v":56},{"t":"T","d":143,"v":55.8},{"t":"T","d":144,"v":56.8},{"t":"S","d":145,"v":65.8},{"t":"B","d":146,"v":56.3},{"t":"B","d":147,"v":54.9},{"t":"S","d":148,"v":63.3},{"t":"S","d":152,"v":63.9},{"t":"T","d":153,"v":54.2},{"t":"T","d":154,"v":62.4},{"t":"T","d":155,"v":62.1},{"t":"T","d":156,"v":61.6},{"t":"T","d":157,"v":59.8},{"t":"T","d":158,"v":58.8},{"t":"B","d":159,"v":60.6},{"t":"T","d":160,"v":58.9},{"t":"T","d":161,"v":58.6},{"t":"B","d":163,"v":57.6},{"t":"B","d":164,"v":57.2},{"t":"S","d":165,"v":65.8},{"t":"T","d":166,"v":57.8},{"t":"B","d":167,"v":56.9},{"t":"S","d":168,"v":66},{"t":"S","d":169,"v":66.1},{"t":"B","d":170,"v":57.8},{"t":"S","d":171,"v":66},{"t":"B","d":172,"v":57.4},{"t":"T","d":173,"v":57.1},{"t":"T","d":174,"v":56},
{"t":"T","d":175,"v":56},{"t":"B","d":176,"v":56.6},{"t":"T","d":177,"v":55.9},{"t":"B","d":178,"v":56.6},{"t":"B","d":181,"v":56},{"t":"B","d":182,"v":55.6},{"t":"S","d":183,"v":63.7},{"t":"S","d":186,"v":64.2},{"t":"B","d":187,"v":55.4},{"t":"T","d":188,"v":54.7},{"t":"S","d":189,"v":64.2},{"t":"B","d":190,"v":56.1},{"t":"B","d":191,"v":55.7},{"t":"S","d":192,"v":64.4},{"t":"B","d":193,"v":55.3},{"t":"S","d":194,"v":64.3},{"t":"B","d":195,"v":56},{"t":"B","d":196,"v":55.2},{"t":"T","d":201,"v":55},{"t":"T","d":202,"v":54.4},{"t":"S","d":203,"v":64.6},{"t":"S","d":204,"v":64.9},{"t":"T","d":205,"v":56.4},{"t":"B","d":206,"v":56.4},{"t":"S","d":211,"v":65.2},{"t":"B","d":212,"v":56.5},{"t":"S","d":213,"v":65},{"t":"T","d":214,"v":56.8},{"t":"S","d":215,"v":66.1},{"t":"B","d":217,"v":57.5},{"t":"T","d":218,"v":56.4},{"t":"T","d":221,"v":57.3},{"t":"S","d":222,"v":67.9},{"t":"T","d":223,"v":59.2},{"t":"T","d":224,"v":60.1},{"t":"T","d":225,"v":60.5},{"t":"T","d":226,"v":63.3},{"t":"B","d":227,"v":61.6},{"t":"B","d":228,"v":61.5},{"t":"T","d":229,"v":61.3},{"t":"B","d":230,"v":60.5},{"t":"T","d":231,"v":60.1},{"t":"T","d":232,"v":59.8},{"t":"S","d":233,"v":68.6},{"t":"B","d":234,"v":60.2},{"t":"S","d":235,"v":69},{"t":"T","d":236,"v":60},{"t":"S","d":237,"v":69.5},{"t":"T","d":238,"v":61},{"t":"T","d":239,"v":61},{"t":"B","d":240,"v":60.2},{"t":"T","d":241,"v":59.5},{"t":"S","d":242,"v":69.8},{"t":"T","d":243,"v":61},{"t":"T","d":244,"v":60.8},{"t":"T","d":245,"v":61.9},{"t":"S","d":246,"v":71.1},{"t":"T","d":247,"v":63.4},{"t":"T","d":248,"v":64.1},{"t":"T","d":249,"v":64.1},{"t":"T","d":250,"v":63.1},{"t":"T","d":252,"v":64.3},{"t":"T","d":253,"v":63.8},{"t":"T","d":254,"v":62.7},{"t":"T","d":256,"v":62.6},{"t":"T","d":257,"v":65.7},{"t":"T","d":259,"v":65.9},{"t":"T","d":260,"v":65.7},{"t":"T","d":261,"v":65.3},{"t":"T","d":262,"v":65.5},
{"t":"T","d":263,"v":65.9},{"t":"T","d":265,"v":66.7},{"t":"T","d":266,"v":65.8},{"t":"T","d":267,"v":68.1},{"t":"B","d":268,"v":65.5},{"t":"T","d":270,"v":65.1},{"t":"T","d":271,"v":64.7},{"t":"T","d":273,"v":66.1},{"t":"B","d":274,"v":65.3},{"t":"B","d":275,"v":64.1},{"t":"S","d":277,"v":73},{"t":"T","d":278,"v":64.7},{"t":"T","d":279,"v":64.9},{"t":"T","d":280,"v":65.5},{"t":"T","d":281,"v":64.6},{"t":"B","d":282,"v":65.4},{"t":"T","d":283,"v":64.6},{"t":"B","d":285,"v":65.7},{"t":"B","d":286,"v":65.3},{"t":"T","d":288,"v":64.9},{"t":"T","d":289,"v":66.7},{"t":"T","d":290,"v":69.4},{"t":"T","d":291,"v":70.4},{"t":"T","d":292,"v":70.4},{"t":"T","d":293,"v":69.9},{"t":"T","d":294,"v":70.9},{"t":"T","d":295,"v":71.7},{"t":"T","d":296,"v":74.6},{"t":"T","d":297,"v":82.1},{"t":"T","d":298,"v":84.2},{"t":"T","d":299,"v":83.2},{"t":"T","d":300,"v":83.7},{"t":"T","d":301,"v":82.2},{"t":"T","d":302,"v":79.9},{"t":"T","d":303,"v":77.3},{"t":"T","d":304,"v":77.2},{"t":"T","d":305,"v":74.6},{"t":"T","d":306,"v":73.3},{"t":"T","d":307,"v":74.6},{"t":"T","d":308,"v":74.9},{"t":"T","d":309,"v":74.1},{"t":"T","d":310,"v":72.7},{"t":"T","d":311,"v":74.5},{"t":"T","d":312,"v":78.1},{"t":"T","d":313,"v":77.2},{"t":"T","d":314,"v":75.8},{"t":"T","d":315,"v":75.6},{"t":"T","d":316,"v":76.8},{"t":"T","d":317,"v":75.4},{"t":"T","d":318,"v":75.3},{"t":"B","d":319,"v":75.3},{"t":"T","d":320,"v":73.5},{"t":"T","d":321,"v":73.9},{"t":"T","d":322,"v":74.9},{"t":"T","d":323,"v":72.8},{"t":"T","d":324,"v":72.3},{"t":"T","d":325,"v":72.2},{"t":"T","d":326,"v":79.2},{"t":"T","d":327,"v":84.8},{"t":"T","d":328,"v":82.2},{"t":"T","d":329,"v":80.8},{"t":"T","d":330,"v":80.3}],
"notes":[{"d":25.2,"v":52.22,"label":"52.22"},{"d":314.8,"v":95.56,"label":"95.64"}],
"arrows":[{"d":21.5,"v":52.1,"label":"←"},{"d":322.6,"v":95.3,"label":"→"}],
"greys":[{"d":202.2,"v":58.64,"label":"59.62-59.68"}],
"alerts":[{"d":200.9,"v":51.1,"label":"$"},{"d":321.8,"v":51.1,"label":"$"}],
"menu":[{"d":293.8,"v":48.77,"label":"改参数"},{"d":305.3,"v":48.77,"label":"加指标"},{"d":316.6,"v":48.77,"label":"换指标"}],
"priceTags":[{"d":344.9,"v":88.02,"label":"87.08"}],
"closeBtn":[{"d":329.7,"v":48.77,"label":"×"}]
},
"layer":[
{"mark":{"type":"rect","color":"#0c0c0c"},"encoding":{"x":{"datum":346.6,"type":"quantitative","scale":{"domain":[-0.826,350.6],"nice":false,"zero":false},"axis":null},"x2":{"datum":348.6},"y":{"datum":45.68,"type":"quantitative","scale":{"domain":[45.68,102.96],"nice":false,"zero":false},"axis":null},"y2":{"datum":102.96}}},
{"mark":{"type":"rect","color":"#343434"},"encoding":{"x":{"datum":347.1,"type":"quantitative","scale":{"domain":[-0.826,350.6],"nice":false,"zero":false},"axis":null},"x2":{"datum":348.4},"y":{"datum":45.68,"type":"quantitative","scale":{"domain":[45.68,102.96],"nice":false,"zero":false},"axis":null},"y2":{"datum":102.96}}},
{"mark":{"type":"rect","color":"#5a2428"},"encoding":{"x":{"datum":348.6,"type":"quantitative","scale":{"domain":[-0.826,350.6],"nice":false,"zero":false},"axis":null},"x2":{"datum":350.6},"y":{"datum":82.1,"type":"quantitative","scale":{"domain":[45.68,102.96],"nice":false,"zero":false},"axis":null},"y2":{"datum":84.2}}},
{"data":{"name":"ruler"},"mark":{"type":"rule","color":"#6a6a6a"},"encoding":{"x":{"datum":349.7,"type":"quantitative","scale":{"domain":[-0.826,350.6],"nice":false,"zero":false},"axis":null},"x2":{"datum":350.6},"y":{"field":"v","type":"quantitative","scale":{"domain":[45.68,102.96],"nice":false,"zero":false},"axis":null}}},
{"mark":{"type":"point","filled":true,"opacity":1,"color":"#dddddd","shape":"M-0.4,-1 L0.4,0 L-0.4,1 Z","size":400},"encoding":{"x":{"datum":347.5,"type":"quantitative","scale":{"domain":[-0.826,350.6],"nice":false,"zero":false},"axis":null},"y":{"datum":76.42,"type":"quantitative","scale":{"domain":[45.68,102.96],"nice":false,"zero":false},"axis":null}}},
{"mark":{"type":"rule","color":"#2a2a2a"},"encoding":{"x":{"datum":332.1,"type":"quantitative","scale":{"domain":[-0.826,350.6],"nice":false,"zero":false},"axis":null}}},
{"mark":{"type":"rule","color":"#3a3a3a"},"encoding":{"x":{"datum":346.35,"type":"quantitative","scale":{"domain":[-0.826,350.6],"nice":false,"zero":false},"axis":null}}},
{"mark":{"type":"rule","color":"#262626"},"encoding":{"x":{"datum":-0.826,"type":"quantitative","scale":{"domain":[-0.826,350.6],"nice":false,"zero":false},"axis":null},"x2":{"datum":346.35},"y":{"datum":50.12,"type":"quantitative","scale":{"domain":[45.68,102.96],"nice":false,"zero":false},"axis":null}}},
{"data":{"name":"levels"},"mark":{"type":"rule","color":"#363636","strokeDash":[1,5]},"encoding":{"x":{"datum":-0.826,"type":"quantitative","scale":{"domain":[-0.826,350.6],"nice":false,"zero":false},"axis":null},"x2":{"datum":332.1},"y":{"field":"v","type":"quantitative","scale":{"domain":[45.68,102.96],"nice":false,"zero":false},"axis":null}}},
{"data":{"name":"tickLabels"},"mark":{"type":"text","font":"Liberation Mono","fontSize":10.5,"align":"right","baseline":"middle","color":"#7d7d7d"},"encoding":{"x":{"datum":344.9,"type":"quantitative","scale":{"domain":[-0.826,350.6],"nice":false,"zero":false},"axis":null},"y":{"field":"v","type":"quantitative","scale":{"domain":[45.68,102.96],"nice":false,"zero":false},"axis":null},"text":{"field":"label"}}},
{"mark":{"type":"rule","color":"#555555"},"encoding":{"x":{"datum":202.2,"type":"quantitative","scale":{"domain":[-0.826,350.6],"nice":false,"zero":false},"axis":null},"x2":{"datum":332.1},"y":{"datum":59.66,"type":"quantitative","scale":{"domain":[45.68,102.96],"nice":false,"zero":false},"axis":null}}},
{"mark":{"type":"rect","color":"#2a2a2a","cornerRadius":2},"encoding":{"x":{"datum":332.3,"type":"quantitative","scale":{"domain":[-0.826,350.6],"nice":false,"zero":false},"axis":null},"x2":{"datum":345.9},"y":{"datum":87.16,"type":"quantitative","scale":{"domain":[45.68,102.96],"nice":false,"zero":false},"axis":null},"y2":{"datum":89}}},
{"data":{"name":"signals"},"transform":[{"filter":"datum.t!=='S'"},{"lookup":"d","from":{"data":{"name":"candles"},"key":"d","fields":["l"]}}],"mark":{"type":"rule","strokeDash":[2,2],"strokeWidth":1},"encoding":{"x":{"field":"d","type":"quantitative","scale":{"domain":[-0.826,350.6],"nice":false,"zero":false},"axis":null},"y":{"field":"v","type":"quantitative","scale":{"domain":[45.68,102.96],"nice":false,"zero":false},"axis":null},"y2":{"field":"l"},"stroke":{"field":"t","type":"nominal","scale":{"domain":["T","B"],"range":["#b9710f","#8e1326"]},"legend":null}}},
{"data":{"name":"signals"},"transform":[{"filter":"datum.t==='S'"},{"lookup":"d","from":{"data":{"name":"candles"},"key":"d","fields":["h"]}}],"mark":{"type":"rule","strokeDash":[2,2],"strokeWidth":1,"color":"#2f80ea"},"encoding":{"x":{"field":"d","type":"quantitative","scale":{"domain":[-0.826,350.6],"nice":false,"zero":false},"axis":null},"y":{"field":"v","type":"quantitative","scale":{"domain":[45.68,102.96],"nice":false,"zero":false},"axis":null},"y2":{"field":"h"}}},
{"data":{"name":"candles"},"mark":{"type":"rule","strokeWidth":1},"encoding":{"x":{"field":"d","type":"quantitative","scale":{"domain":[-0.826,350.6],"nice":false,"zero":false},"axis":null},"y":{"field":"h","type":"quantitative","scale":{"domain":[45.68,102.96],"nice":false,"zero":false},"axis":null},"y2":{"field":"l"},"stroke":{"condition":{"test":"datum.c>=datum.o","value":"#ff5a55"},"value":"#00f0f0"}}},
{"data":{"name":"candles"},"mark":{"type":"bar","size":2.5,"orient":"vertical","strokeWidth":1},"encoding":{"x":{"field":"d","type":"quantitative","scale":{"domain":[-0.826,350.6],"nice":false,"zero":false,"padding":0},"axis":null},"y":{"field":"o","type":"quantitative","scale":{"domain":[45.68,102.96],"nice":false,"zero":false},"axis":null},"y2":{"field":"c"},"fill":{"condition":{"test":"datum.c>=datum.o","value":"#161616"},"value":"#00f0f0"},"stroke":{"condition":{"test":"datum.c>=datum.o","value":"#ff5a55"},"value":"#00f0f0"}}},
{"data":{"name":"lines"},"mark":{"type":"line","strokeWidth":1,"interpolate":"monotone","clip":true},"encoding":{"x":{"field":"d","type":"quantitative","scale":{"domain":[-0.826,350.6],"nice":false,"zero":false},"axis":null},"y":{"field":"v","type":"quantitative","scale":{"domain":[45.68,102.96],"nice":false,"zero":false},"axis":null},"color":{"field":"s","type":"nominal","scale":{"domain":["MA5","MA10","MA20","MA60","MA120","MA250","VOL"],"range":["#ffffff","#ffff00","#ff00ff","#a8a8a8","#00dcf5","#f5f58c","#f000f0"]},"legend":null}}},
{"data":{"name":"signals"},"mark":{"type":"point","filled":true,"opacity":1,"strokeWidth":1,"size":165,"shape":"M-0.72,-1 H0.72 Q1,-1 1,-0.72 V0.72 Q1,1 0.72,1 H-0.72 Q-1,1 -1,0.72 V-0.72 Q-1,-1 -0.72,-1 Z"},"encoding":{"x":{"field":"d","type":"quantitative","scale":{"domain":[-0.826,350.6],"nice":false,"zero":false},"axis":null},"y":{"field":"v","type":"quantitative","scale":{"domain":[45.68,102.96],"nice":false,"zero":false},"axis":null},"fill":{"field":"t","type":"nominal","scale":{"domain":["T","B","S"],"range":["#dc830c","#d8402f","#2b78e2"]},"legend":null},"stroke":{"field":"t","type":"nominal","scale":{"domain":["T","B","S"],"range":["#b98a4a","#e08a80","#5f9ff0"]},"legend":null}}},
{"data":{"name":"signals"},"mark":{"type":"text","font":"DejaVu Sans","fontSize":10,"baseline":"middle","align":"center"},"encoding":{"x":{"field":"d","type":"quantitative","scale":{"domain":[-0.826,350.6],"nice":false,"zero":false},"axis":null},"y":{"field":"v","type":"quantitative","scale":{"domain":[45.68,102.96],"nice":false,"zero":false},"axis":null},"text":{"field":"t"},"fill":{"field":"t","type":"nominal","scale":{"domain":["T","B","S"],"range":["#f2dfc0","#f6d8d4","#ffffff"]},"legend":null}}},
{"data":{"name":"notes"},"mark":{"type":"text","font":"Liberation Mono","fontSize":10.5,"align":"left","baseline":"middle","color":"#ffffff"},"encoding":{"x":{"field":"d","type":"quantitative","scale":{"domain":[-0.826,350.6],"nice":false,"zero":false},"axis":null},"y":{"field":"v","type":"quantitative","scale":{"domain":[45.68,102.96],"nice":false,"zero":false},"axis":null},"text":{"field":"label"}}},
{"data":{"name":"arrows"},"mark":{"type":"text","font":"DejaVu Sans","fontSize":17,"align":"left","baseline":"middle","color":"#ffffff"},"encoding":{"x":{"field":"d","type":"quantitative","scale":{"domain":[-0.826,350.6],"nice":false,"zero":false},"axis":null},"y":{"field":"v","type":"quantitative","scale":{"domain":[45.68,102.96],"nice":false,"zero":false},"axis":null},"text":{"field":"label"}}},
{"data":{"name":"greys"},"mark":{"type":"text","font":"Liberation Mono","fontSize":10.5,"align":"left","baseline":"middle","color":"#8a8a8a"},"encoding":{"x":{"field":"d","type":"quantitative","scale":{"domain":[-0.826,350.6],"nice":false,"zero":false},"axis":null},"y":{"field":"v","type":"quantitative","scale":{"domain":[45.68,102.96],"nice":false,"zero":false},"axis":null},"text":{"field":"label"}}},
{"data":{"name":"alerts"},"mark":{"type":"text","font":"Liberation Mono","fontWeight":"bold","fontSize":12,"align":"center","baseline":"middle","color":"#f01010"},"encoding":{"x":{"field":"d","type":"quantitative","scale":{"domain":[-0.826,350.6],"nice":false,"zero":false},"axis":null},"y":{"field":"v","type":"quantitative","scale":{"domain":[45.68,102.96],"nice":false,"zero":false},"axis":null},"text":{"field":"label"}}},
{"data":{"name":"menu"},"mark":{"type":"text","font":"Noto Sans CJK SC","fontSize":12,"align":"left","baseline":"middle","color":"#7a7a7a"},"encoding":{"x":{"field":"d","type":"quantitative","scale":{"domain":[-0.826,350.6],"nice":false,"zero":false},"axis":null},"y":{"field":"v","type":"quantitative","scale":{"domain":[45.68,102.96],"nice":false,"zero":false},"axis":null},"text":{"field":"label"}}},
{"data":{"name":"closeBtn"},"mark":{"type":"point","shape":"square","size":169,"stroke":"#555555","strokeWidth":1,"opacity":1},"encoding":{"x":{"field":"d","type":"quantitative","scale":{"domain":[-0.826,350.6],"nice":false,"zero":false},"axis":null},"y":{"field":"v","type":"quantitative","scale":{"domain":[45.68,102.96],"nice":false,"zero":false},"axis":null}}},
{"data":{"name":"closeBtn"},"mark":{"type":"text","font":"DejaVu Sans","fontSize":12,"align":"center","baseline":"middle","color":"#7a7a7a"},"encoding":{"x":{"field":"d","type":"quantitative","scale":{"domain":[-0.826,350.6],"nice":false,"zero":false},"axis":null},"y":{"field":"v","type":"quantitative","scale":{"domain":[45.68,102.96],"nice":false,"zero":false},"axis":null},"text":{"field":"label"}}},
{"data":{"name":"priceTags"},"mark":{"type":"text","font":"Liberation Mono","fontSize":10.5,"align":"right","baseline":"middle","color":"#d8d8d8"},"encoding":{"x":{"field":"d","type":"quantitative","scale":{"domain":[-0.826,350.6],"nice":false,"zero":false},"axis":null},"y":{"field":"v","type":"quantitative","scale":{"domain":[45.68,102.96],"nice":false,"zero":false},"axis":null},"text":{"field":"label"}}}
]}
